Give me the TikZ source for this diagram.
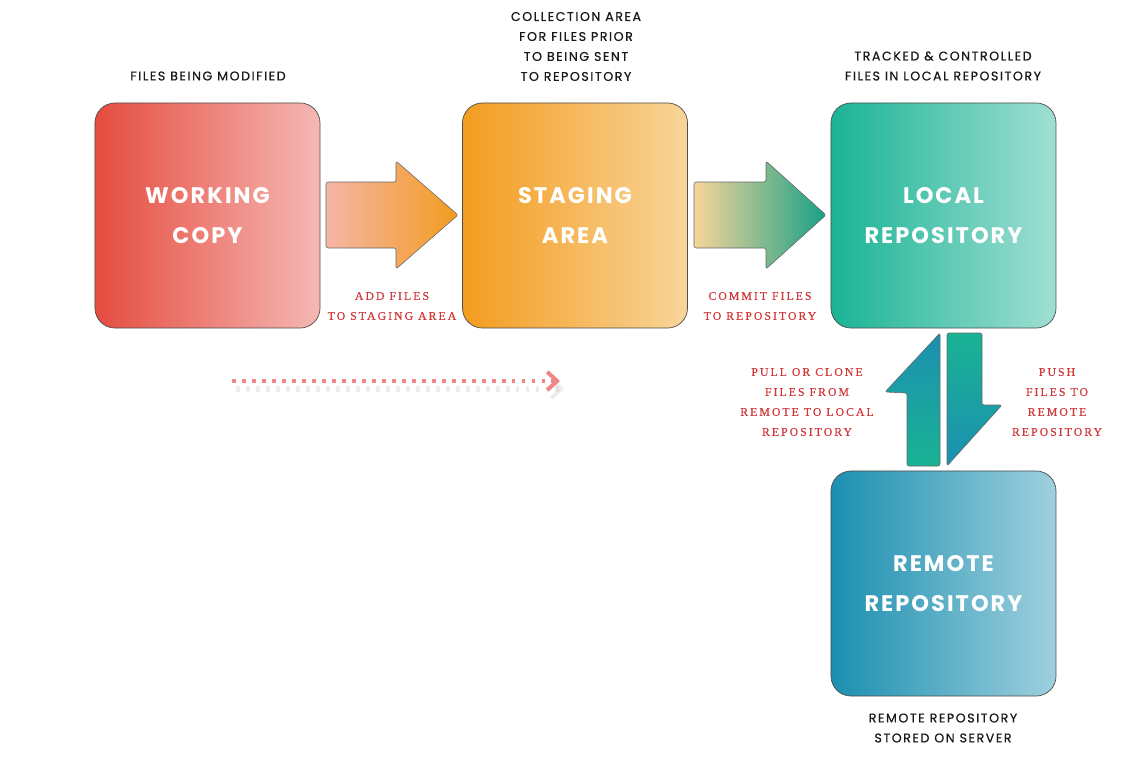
\documentclass[tikz,border=0pt]{standalone}
\usepackage{fontspec}
\usepackage{tikz}
\usetikzlibrary{arrows.meta}
\setmainfont{Liberation Serif}
\newfontfamily\capfont[LetterSpace=12, FakeBold=0.6]{Poppins}
\newfontfamily\boxfont[LetterSpace=9]{Poppins}
\newfontfamily\notefont[LetterSpace=17, FakeBold=0.4]{Liberation Serif}
\definecolor{wcdark}{HTML}{E54C3F}
\definecolor{wclight}{HTML}{F5B8B4}
\definecolor{sadark}{HTML}{F39C1F}
\definecolor{salight}{HTML}{F8D59A}
\definecolor{lrdark}{HTML}{1AB394}
\definecolor{lrlight}{HTML}{A0DFD3}
\definecolor{rrdark}{HTML}{1B8FB0}
\definecolor{rrlight}{HTML}{9FD0DE}
\definecolor{notered}{HTML}{D0383A}
\definecolor{dotred}{HTML}{F08585}
\tikzset{
  box/.style={draw=black!70, line width=0.5pt, rounded corners=0.5cm,
    minimum width=5.625cm, minimum height=5.625cm, align=center,
    text=white, font=\boxfont\bfseries\fontsize{16}{29}\selectfont},
  note/.style={align=center, text=notered,
    font=\notefont\fontsize{8.4}{14.2}\selectfont},
  caption/.style={align=center, text=black!90,
    font=\capfont\fontsize{9}{14.2}\selectfont},
  bigarrow/.style={draw=black!60, line width=0.4pt, rounded corners=1.5pt},
  dotline/.style={dotred, line width=2.8pt, dash pattern=on 2.8pt off 4.3pt,
    -{Straight Barb[length=7pt, width=13pt, line width=2.8pt]}}
}
\begin{document}
\begin{tikzpicture}[x=0.025cm, y=-0.025cm]
\useasboundingbox (0,0) rectangle (1144,776);
% boxes
\node[box, left color=wcdark, right color=wclight] (wc) at (207.5,215.5) {WORKING\\COPY};
\node[box, left color=sadark, right color=salight] (sa) at (575,215.5) {STAGING\\AREA};
\node[box, left color=lrdark, right color=lrlight] (lr) at (943.5,215.5) {LOCAL\\REPOSITORY};
\node[box, left color=rrdark, right color=rrlight] (rr) at (943.5,583.5) {REMOTE\\REPOSITORY};
% captions
\node[caption] (wccap) at (208,76) {FILES BEING MODIFIED};
\node[caption] (sacap) at (576,46.5) {COLLECTION AREA\\FOR FILES PRIOR\\TO BEING SENT\\TO REPOSITORY};
\node[caption] (lrcap) at (943,66) {TRACKED \& CONTROLLED\\FILES IN LOCAL REPOSITORY};
\node[caption] (rrcap) at (943,728) {REMOTE REPOSITORY\\STORED ON SERVER};
% big arrows
\shade[bigarrow, left color=wclight!90!sadark, right color=sadark]
  (326,182) -- (396,182) -- (396,161) -- (458,215) -- (396,269) -- (396,248) -- (326,248) -- cycle;
\shade[bigarrow, left color=salight, right color=lrdark!90!black]
  (694,182) -- (766,182) -- (766,161) -- (826,215) -- (766,269) -- (766,248) -- (694,248) -- cycle;
\shade[bigarrow, top color=rrdark, bottom color=lrdark]
  (940,333) -- (940,466) -- (907,466) -- (907,393) -- (885,392) -- cycle;
\shade[bigarrow, top color=lrdark, bottom color=rrdark]
  (947,333) -- (982,333) -- (982,405) -- (1002,405) -- (947,466) -- cycle;
% arrow labels
\node[note] (addnote) at (392,306) {ADD FILES\\TO STAGING AREA};
\node[note] (commitnote) at (760,306) {COMMIT FILES\\TO REPOSITORY};
\node[note] (pullnote) at (807,402) {PULL OR CLONE\\FILES FROM\\REMOTE TO LOCAL\\REPOSITORY};
\node[note] (pushnote) at (1057,402) {PUSH\\FILES TO\\REMOTE\\REPOSITORY};
% dotted arrow
\coordinate (dotstart) at (232,381);
\coordinate (dotend) at (560,381);
\coordinate (shadestart) at (236,389);
\coordinate (shadeend) at (564,389);
\draw[dotline, draw=black, opacity=0.07, line width=4pt] (shadestart) -- (shadeend);
\draw[dotline] (dotstart) -- (dotend);
\end{tikzpicture}
\end{document}
